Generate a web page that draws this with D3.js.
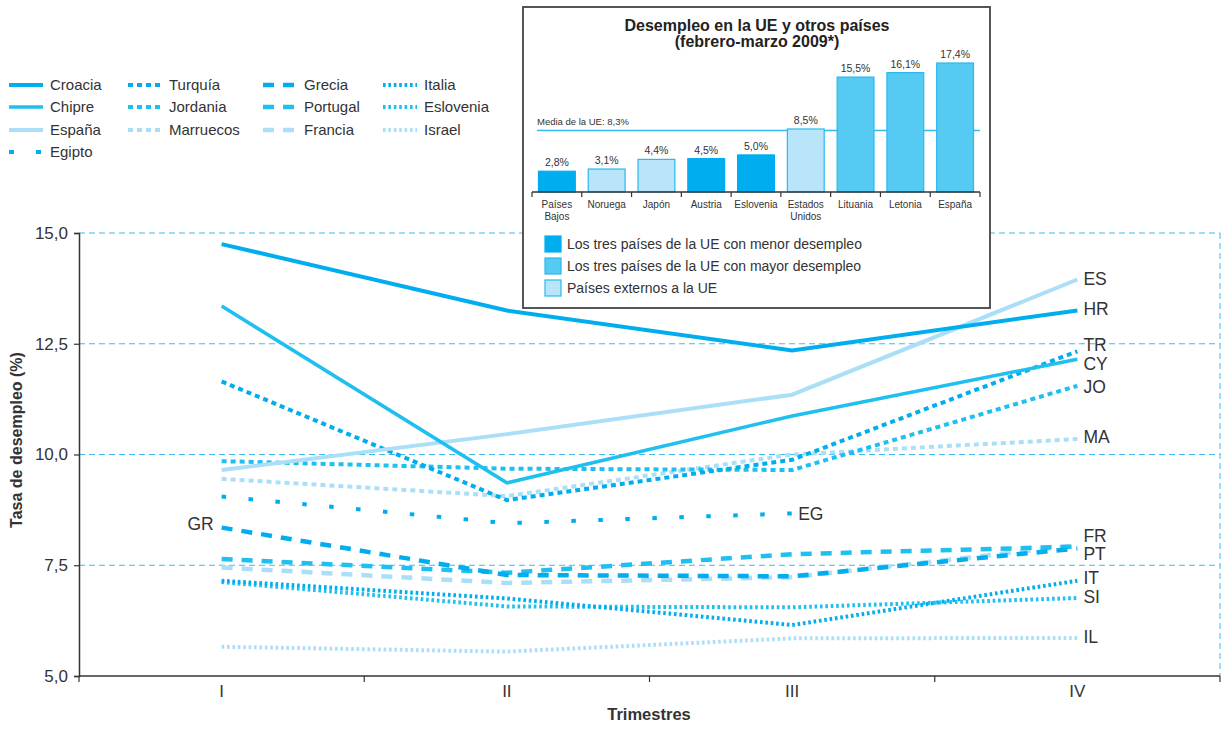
<!DOCTYPE html>
<html>
<head>
<meta charset="utf-8">
<script src="https://cdn.jsdelivr.net/npm/d3@7"></script>
<style>
  html, body { margin: 0; padding: 0; background: #fff; }
  svg { display: block; font-family: "Liberation Sans", Arial, sans-serif; }
</style>
</head>
<body>
<svg id="chart" width="1232" height="734"></svg>
<script>
// ---------------- DATA ----------------
const quarters = ["I", "II", "III", "IV"];
const yTicks = [5, 7.5, 10, 12.5, 15];

const croacia   = [14.75, 13.25, 12.35, 13.25];
const chipre    = [13.35, 9.36, 10.87, 12.15];
const espana    = [9.65, 10.46, 11.35, 13.95];
const turquia   = [11.65, 8.97, 9.88, 12.33];
const jordania  = [9.85, 9.68, 9.65, 11.55];
const marruecos = [9.45, 9.06, 10.0, 10.35];
const egipto    = [9.05, 8.45, 8.67, null];
const grecia    = [8.35, 7.28, 7.25, 7.88];
const portugal  = [7.64, 7.33, 7.75, 7.92];
const francia   = [7.45, 7.10, 7.23, 7.95];
const italia    = [7.15, 6.75, 6.15, 7.15];
const eslovenia = [7.12, 6.57, 6.55, 6.76];
const israel    = [5.66, 5.55, 5.85, 5.86];

const seriesNames = ["Croacia","Chipre","España","Egipto","Turquía","Jordania","Marruecos","Grecia","Portugal","Francia","Italia","Eslovenia","Israel"];
const seriesCodes = ["HR","CY","ES","EG","TR","JO","MA","GR","PT","FR","IT","SI","IL"];
const seriesValues = [croacia, chipre, espana, egipto, turquia, jordania, marruecos, grecia, portugal, francia, italia, eslovenia, israel];

// inset data
const insetCountries = [["Países","Bajos"],["Noruega"],["Japón"],["Austria"],["Eslovenia"],["Estados","Unidos"],["Lituania"],["Letonia"],["España"]];
const insetValues = [2.8, 3.1, 4.4, 4.5, 5.0, 8.5, 15.5, 16.1, 17.4];
const insetLabels = ["2,8%","3,1%","4,4%","4,5%","5,0%","8,5%","15,5%","16,1%","17,4%"];
const insetGroup = ["low","ext","ext","low","low","ext","high","high","high"];
const euMean = 8.3;
const insetLegend = ["Los tres países de la UE con menor desempleo","Los tres países de la UE con mayor desempleo","Países externos a la UE"];

// ---------------- STYLES ----------------
const C_DARK = "#00aeef", C_MID = "#1fbff0", C_LIGHT = "#abdff7";
const styleOf = {
  "Croacia":   {color: C_DARK,  dash: null,       w: 4},
  "Chipre":    {color: C_MID,   dash: null,       w: 3.5},
  "España":    {color: C_LIGHT, dash: null,       w: 4},
  "Egipto":    {color: C_DARK,  dash: "4.5,22.5", w: 4},
  "Turquía":   {color: C_DARK,  dash: "5,4",      w: 4},
  "Jordania":  {color: C_MID,   dash: "5,4",      w: 4},
  "Marruecos": {color: C_LIGHT, dash: "5,4",      w: 4},
  "Grecia":    {color: C_DARK,  dash: "11,9",     w: 4.5},
  "Portugal":  {color: C_MID,   dash: "11,9",     w: 4.5},
  "Francia":   {color: C_LIGHT, dash: "11,9",     w: 4.5},
  "Italia":    {color: C_DARK,  dash: "2.6,2.8",  w: 4},
  "Eslovenia": {color: C_MID,   dash: "2.6,2.8",  w: 4},
  "Israel":    {color: C_LIGHT, dash: "2.6,2.8",  w: 4}
};
// label nudges in px (to avoid overlaps)
const labelNudge = {HR: -2, CY: 4, TR: -7, FR: -10, PT: 7, IT: -3, SI: -1, ES: -1, JO: 1, MA: -2, IL: -1};

const svg = d3.select("#chart");
const TXT = "#333";

// ---------------- MAIN CHART ----------------
const x = d3.scaleBand().domain(quarters).range([79, 1220]);
const y = d3.scaleLinear().domain([5, 15]).range([676, 233]);
const xc = q => x(q) + x.bandwidth() / 2;

// gridlines
svg.append("g").selectAll("line").data(yTicks.filter(v => v > 5)).join("line")
  .attr("x1", 79).attr("x2", 1220)
  .attr("y1", d => y(d)).attr("y2", d => y(d))
  .attr("stroke", "#3bbbee").attr("stroke-width", 1).attr("stroke-dasharray", "6,4");
svg.append("line").attr("x1", 1220).attr("x2", 1220).attr("y1", y(15)).attr("y2", y(5))
  .attr("stroke", "#3bbbee").attr("stroke-width", 1).attr("stroke-dasharray", "6,4");

// axes
const yAxis = svg.append("g").attr("transform", "translate(79,0)")
  .call(d3.axisLeft(y).tickValues(yTicks).tickSize(5).tickPadding(6)
    .tickFormat(d => d3.format(".1f")(d).replace(".", ",")));
yAxis.select(".domain").attr("stroke", "#333").attr("stroke-width", 1.5);
yAxis.selectAll(".tick line").attr("stroke", "#333").attr("stroke-width", 1.2);
yAxis.selectAll("text").attr("font-size", 17).attr("fill", TXT)
  .attr("font-family", "Liberation Sans, Arial, sans-serif");

const xAxisG = svg.append("g").attr("transform", "translate(0,676)");
xAxisG.append("line").attr("x1", 79).attr("x2", 1220).attr("stroke", "#333").attr("stroke-width", 1.5);
const edges = quarters.map(q => x(q)).concat([x(quarters[quarters.length - 1]) + x.bandwidth()]);
xAxisG.selectAll(".edgeTick").data(edges).join("line")
  .attr("x1", d => d).attr("x2", d => d).attr("y1", 0).attr("y2", 6)
  .attr("stroke", "#333").attr("stroke-width", 1.2);
xAxisG.selectAll(".qlab").data(quarters).join("text")
  .attr("x", d => xc(d)).attr("y", 21).attr("text-anchor", "middle")
  .attr("font-size", 17).attr("fill", TXT).text(d => d);

svg.append("text").attr("x", 649).attr("y", 720).attr("text-anchor", "middle")
  .attr("font-size", 16.5).attr("font-weight", "bold").attr("fill", TXT).text("Trimestres");
svg.append("text").attr("transform", "translate(22,440) rotate(-90)").attr("text-anchor", "middle")
  .attr("font-size", 16).attr("font-weight", "bold").attr("fill", TXT).text("Tasa de desempleo (%)");

// lines
const line = d3.line().defined(d => d.v != null).x(d => xc(d.q)).y(d => y(d.v));
const drawOrder = ["Israel","Eslovenia","Italia","Francia","Portugal","Grecia","Egipto","Marruecos","Jordania","Turquía","España","Chipre","Croacia"];
drawOrder.forEach(name => {
  const i = seriesNames.indexOf(name);
  const vals = seriesValues[i].map((v, k) => ({q: quarters[k], v}));
  const s = styleOf[name];
  svg.append("path").datum(vals).attr("d", line)
    .attr("fill", "none").attr("stroke", s.color).attr("stroke-width", s.w)
    .attr("stroke-dasharray", s.dash).attr("stroke-linejoin", "miter");
});

// end labels
seriesNames.forEach((name, i) => {
  const code = seriesCodes[i];
  const vals = seriesValues[i];
  let lastIdx = vals.length - 1;
  while (vals[lastIdx] == null) lastIdx--;
  if (code === "GR") {
    svg.append("text").attr("x", xc(quarters[0]) - 8).attr("y", y(vals[0]) - 4)
      .attr("dy", "0.36em").attr("text-anchor", "end").attr("font-size", 17.5).attr("fill", TXT).text(code);
    return;
  }
  svg.append("text").attr("x", xc(quarters[lastIdx]) + 6)
    .attr("y", y(vals[lastIdx]) + (labelNudge[code] || 0))
    .attr("dy", "0.36em").attr("font-size", 17.5).attr("fill", TXT).text(code);
});

// legend (top-left)
const legendCols = [
  ["Croacia","Chipre","España","Egipto"],
  ["Turquía","Jordania","Marruecos"],
  ["Grecia","Portugal","Francia"],
  ["Italia","Eslovenia","Israel"]
];
const colX = [9, 128, 263, 383];
const rowY = [85, 107, 130, 152];
legendCols.forEach((col, ci) => {
  col.forEach((name, ri) => {
    const s = styleOf[name];
    const g = svg.append("g").attr("transform", `translate(${colX[ci]},${rowY[ri]})`);
    g.append("line").attr("x1", 0).attr("x2", 34).attr("y1", 0).attr("y2", 0)
      .attr("stroke", s.color).attr("stroke-width", s.w)
      .attr("stroke-dasharray", name === "Egipto" ? "5,22" : s.dash);
    g.append("text").attr("x", 41).attr("y", 0).attr("dy", "0.36em")
      .attr("font-size", 15).attr("fill", TXT).text(name);
  });
});

// ---------------- INSET ----------------
const inset = svg.append("g");
inset.append("rect").attr("x", 523).attr("y", 7).attr("width", 467).attr("height", 301)
  .attr("fill", "#fff").attr("stroke", "#444").attr("stroke-width", 1.8);
inset.append("text").attr("x", 757).attr("y", 31).attr("text-anchor", "middle")
  .attr("font-size", 16).attr("font-weight", "bold").attr("fill", "#222")
  .text("Desempleo en la UE y otros países");
inset.append("text").attr("x", 757).attr("y", 47).attr("text-anchor", "middle")
  .attr("font-size", 16).attr("font-weight", "bold").attr("fill", "#222")
  .text("(febrero-marzo 2009*)");

const ix = d3.scaleBand().domain(insetCountries.map(d => d.join(" ")))
  .range([532, 980]).paddingInner(0.26).paddingOuter(0.13);
const iy = d3.scaleLinear().domain([0, 17.4]).range([192, 63]);
const groupFill = {low: "#00aeef", high: "#55cbf4", ext: "#b8e5f9"};
const groupStroke = {low: "#00aeef", high: "#2bb8ee", ext: "#2bb8ee"};

// mean line (behind bars)
inset.append("line").attr("x1", 537).attr("x2", 980).attr("y1", iy(euMean)).attr("y2", iy(euMean))
  .attr("stroke", "#35b8ec").attr("stroke-width", 1.6);
inset.append("text").attr("x", 537).attr("y", iy(euMean) - 5)
  .attr("font-size", 9.5).attr("fill", "#333").text("Media de la UE: 8,3%");

insetCountries.forEach((c, i) => {
  const key = c.join(" ");
  const v = insetValues[i];
  inset.append("rect").attr("x", ix(key)).attr("y", iy(v))
    .attr("width", ix.bandwidth()).attr("height", iy(0) - iy(v))
    .attr("fill", groupFill[insetGroup[i]]).attr("stroke", groupStroke[insetGroup[i]]).attr("stroke-width", 1.2);
  inset.append("text").attr("x", ix(key) + ix.bandwidth() / 2).attr("y", iy(v) - 5)
    .attr("text-anchor", "middle").attr("font-size", 10.5).attr("fill", "#333").text(insetLabels[i]);
  c.forEach((part, k) => {
    inset.append("text").attr("x", ix(key) + ix.bandwidth() / 2).attr("y", 208 + k * 12)
      .attr("text-anchor", "middle").attr("font-size", 10).attr("fill", "#333").text(part);
  });
});
// inset axis
inset.append("line").attr("x1", 532).attr("x2", 980).attr("y1", 192).attr("y2", 192)
  .attr("stroke", "#333").attr("stroke-width", 1.3);
const iEdges = ix.domain().map(d => ix(d) - ix.step() * ix.paddingInner() / 2);
iEdges[0] = 532;
iEdges.push(980);
inset.selectAll(".itick").data(iEdges).join("line")
  .attr("x1", d => d).attr("x2", d => d).attr("y1", 192).attr("y2", 197)
  .attr("stroke", "#333").attr("stroke-width", 1.2);

// inset legend
const legGroups = ["low", "high", "ext"];
insetLegend.forEach((t, i) => {
  const yy = 236 + i * 22;
  inset.append("rect").attr("x", 545).attr("y", yy).attr("width", 16).attr("height", 16)
    .attr("fill", groupFill[legGroups[i]]).attr("stroke", groupStroke[legGroups[i]]).attr("stroke-width", 1.2);
  inset.append("text").attr("x", 567).attr("y", yy + 8).attr("dy", "0.36em")
    .attr("font-size", 14).attr("fill", "#333").text(t);
});
</script>
</body>
</html>
